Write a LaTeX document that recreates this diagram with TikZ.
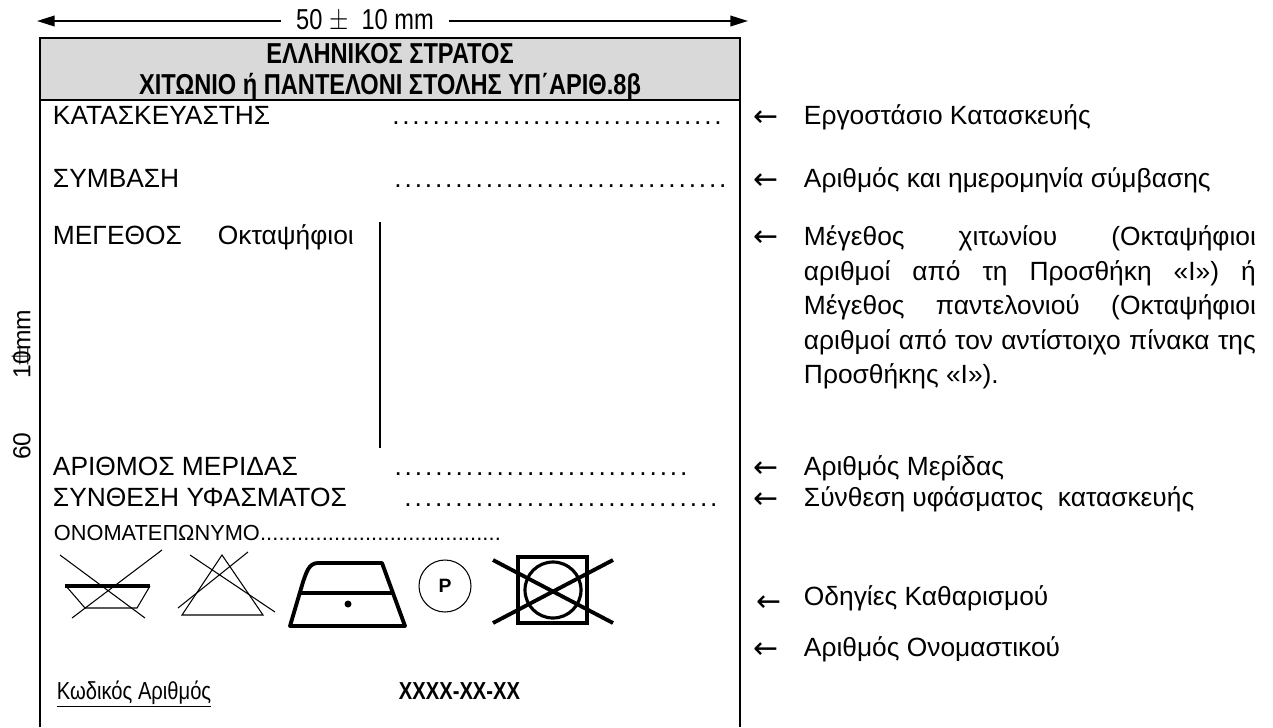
\documentclass[tikz,border=0pt]{standalone}
\usepackage{fontspec}
\usepackage{graphicx}
\setmainfont{Liberation Sans}
\newfontfamily\arrowfont{DejaVu Sans}
\usetikzlibrary{positioning,arrows.meta}

\newdimen\pxu \pxu=0.5690551pt
\newcommand{\dotrow}[1]{\hbox to #1\pxu{\xleaders\hbox to 10\pxu{\hss.\hss}\hfill}}
\newcommand{\narrow}[1]{\scalebox{0.82}[1]{#1}}

\begin{document}
\begin{tikzpicture}[x=0.02cm,y=-0.02cm,>={Triangle[length=10pt,width=6pt]},line width=1.1pt,
    txt/.style={font=\fontsize{15}{19.6}\selectfont,anchor=base west,inner sep=0pt},
    small/.style={font=\fontsize{12.4}{15}\selectfont,anchor=base west,inner sep=0pt},
    head/.style={font=\fontsize{16.4}{19}\selectfont\bfseries,anchor=base,inner sep=0pt},
    arr/.style={font=\arrowfont\fontsize{17}{17}\selectfont,anchor=base west,inner sep=0pt},
    side/.style={font=\fontsize{14}{14}\selectfont,rotate=90,inner sep=0pt},
    sym/.style={line width=2.2pt},
    thin sym/.style={line width=0.6pt}]
    \useasboundingbox (0,0) rectangle (1273,727);

    % label frame
    \fill[gray!30] (40,38) rectangle (740,100);
    \draw (40,727) -- (40,38) -- (740,38) -- (740,727);
    \draw (40,100) -- (740,100);

    % width
    \node (w) [font=\fontsize{16.4}{19}\selectfont,inner sep=8pt] at (365,21) {\narrow{50 $\pm$\ \ 10 mm}};
    \coordinate (wl) at (37,21);
    \coordinate (wr) at (748,21);
    \path[->] (w) edge (wl)
              (w) edge (wr);

    % height
    \node (v1) [side] at (22,446) {60};
    \node (v2) [side] at (22,344) {10mm};
    \node (v3) [side] at (22,357) {$\pm$};

    \node (1) [head] at (390,63) {\narrow{ΕΛΛΗΝΙΚΟΣ ΣΤΡΑΤΟΣ}};
    \node (2) [head] at (390,94) {\narrow{ΧΙΤΩΝΙΟ ή ΠΑΝΤΕΛΟΝΙ ΣΤΟΛΗΣ ΥΠ΄ΑΡΙΘ.8β}};

    \node (3) [txt] at (52,124) {ΚΑΤΑΣΚΕΥΑΣΤΗΣ};
    \node (4) [txt] at (390,124) {\dotrow{332}};
    \node (5) [txt] at (52,187) {ΣΥΜΒΑΣΗ};
    \node (6) [txt] at (392,187) {\dotrow{335}};
    \node (7) [txt] at (52,244) {ΜΕΓΕΘΟΣ};
    \node (8) [txt] at (217,244) {Οκταψήφιοι};
    \draw (380,222) -- (380,448);
    \node (9) [txt] at (52,475) {ΑΡΙΘΜΟΣ ΜΕΡΙΔΑΣ};
    \node (10) [txt] at (392,475) {\dotrow{296}};
    \node (11) [txt] at (52,506) {ΣΥΝΘΕΣΗ ΥΦΑΣΜΑΤΟΣ};
    \node (12) [txt] at (402,506) {\dotrow{316}};
    \node (13) [small] at (53,540) {\hbox to 447\pxu{ΟΝΟΜΑΤΕΠΩΝΥΜΟ\xleaders\hbox{.}\hfill}};

    % care symbols
    \draw[sym] (65,586) -- (150,586);
    \draw[thin sym] (66,586) -- (85,608) -- (137,608) -- (150,586);
    \draw[thin sym] (60,555) -- (145,618) (162,550) -- (72,618);
    \draw[thin sym] (222,555) -- (182,615) -- (263,615) -- cycle;
    \draw[thin sym] (190,555) -- (275,612) (248,552) -- (178,608);
    \draw[sym,line join=round] (300,593) -- (393,593)
        (405,626) -- (290,626) -- (303,582) to[out=70,in=180] (318,563) -- (382,563) -- cycle;
    \fill (348,604) circle (3.5);
    \draw[thin sym] (445,586) circle (26);
    \node (p) [font=\fontsize{11}{11}\selectfont\bfseries] at (445,586) {P};
    \draw[sym] (518,557) rectangle (587,623);
    \draw[line width=1.8pt] (553,590) circle (28);
    \draw[sym] (493,560) -- (613,623) (613,560) -- (493,623);

    \node (14) [txt,font=\fontsize{14}{14}\selectfont] at (56,699) {\narrow{\underline{Κωδικός Αριθμός}}};
    \node (15) [txt,font=\fontsize{14}{14}\selectfont\bfseries] at (398,699) {\narrow{XXXX-XX-XX}};

    % notes
    \node (a1) [arr] at (753,126) {←};
    \node (r1) [txt] at (803,124) {Εργοστάσιο Κατασκευής};
    \node (a2) [arr] at (753,189) {←};
    \node (r2) [txt] at (803,187) {Αριθμός και ημερομηνία σύμβασης};
    \node (a3) [arr] at (753,246) {←};
    \node (r3) [txt,anchor=north west,text width=452\pxu,align=justify] at (803,225)
        {Μέγεθος χιτωνίου (Οκταψήφιοι\linebreak αριθμοί από τη Προσθήκη «I») ή\linebreak Μέγεθος παντελονιού (Οκταψήφιοι\linebreak αριθμοί από τον αντίστοιχο πίνακα της\linebreak Προσθήκης «I»).};
    \node (a4) [arr] at (753,477) {←};
    \node (r4) [txt] at (803,475) {Αριθμός Μερίδας};
    \node (a5) [arr] at (753,508) {←};
    \node (r5) [txt] at (803,506) {Σύνθεση υφάσματος\ \ κατασκευής};
    \node (a6) [arr] at (756,611) {←};
    \node (r6) [txt] at (803,605) {Οδηγίες Καθαρισμού};
    \node (a7) [arr] at (753,658) {←};
    \node (r7) [txt] at (803,656) {Αριθμός Ονομαστικού};
\end{tikzpicture}
\end{document}
